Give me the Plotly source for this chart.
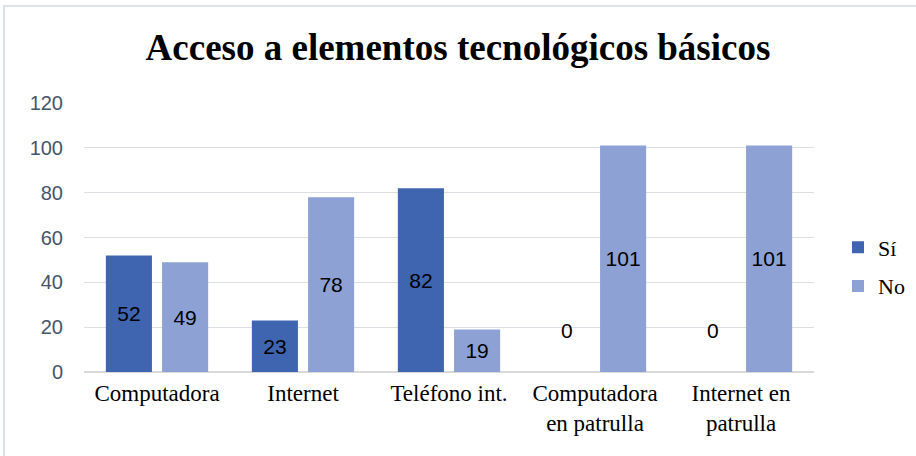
import plotly.graph_objects as go

categories = ["Computadora", "Internet", "Teléfono int.", "Computadora<br>en patrulla", "Internet en<br>patrulla"]
si_values = [52, 23, 82, 0, 0]
no_values = [49, 78, 19, 101, 101]
y_ticks = [0, 20, 40, 60, 80, 100, 120]

L, R, T, B = 84, 102, 103, 84
W, H = 916, 456
pw, ph = W - L - R, H - T - B

def pos(vals):
    return ["outside" if v == 0 else "inside" for v in vals]

def labels(vals):
    return [f"{v}<br> " if v == 0 else f"{v}" for v in vals]

label_font = dict(family="Liberation Sans, Arial", size=21, color="#000000")

fig = go.Figure()
fig.add_trace(go.Bar(
    name="Sí", x=categories, y=si_values, text=labels(si_values),
    textposition=pos(si_values), insidetextanchor="middle",
    marker=dict(color="#3f64b0", line=dict(width=0)),
    textfont=label_font, cliponaxis=False, legendgroup="a",
))
fig.add_trace(go.Bar(
    name="No", x=categories, y=no_values, text=labels(no_values),
    textposition=pos(no_values), insidetextanchor="middle",
    marker=dict(color="#8da1d4", line=dict(width=0)),
    textfont=label_font, cliponaxis=False, legendgroup="b",
))

fig.update_layout(
    width=W, height=H,
    margin=dict(l=L, r=R, t=T, b=B, pad=0, autoexpand=False),
    paper_bgcolor="#ffffff", plot_bgcolor="#ffffff",
    barmode="group", bargap=0.23, bargroupgap=0.18,
    title=dict(text="<b>Acceso a elementos tecnológicos básicos</b>",
               font=dict(family="Liberation Serif, Times New Roman", size=37, color="#000000"),
               x=0.5, xanchor="center", y=1 - 47 / H, yanchor="middle"),
    legend=dict(xref="container", yref="container", x=838 / W, y=1 - 267 / H,
                xanchor="left", yanchor="middle",
                font=dict(family="Liberation Serif, Times New Roman", size=22, color="#000000"),
                tracegroupgap=7, traceorder="grouped", itemwidth=30),
    uniformtext=dict(mode=False),
    showlegend=True,
)
fig.update_xaxes(
    tickfont=dict(family="Liberation Serif, Times New Roman", size=23, color="#000000"),
    showgrid=False, showline=True, linecolor="#d9d9d9", linewidth=1, ticks="",
    automargin=False,
)
fig.update_yaxes(
    range=[0, 120], tickvals=y_ticks, showgrid=True, gridcolor="#dcdfe4", gridwidth=1,
    zeroline=True, zerolinecolor="#d9d9d9",
    tickfont=dict(family="Liberation Sans, Arial", size=20, color="#44546a"),
    ticks="", ticklen=0, ticklabelstandoff=20, automargin=False,
)
# outer chart border
fig.add_shape(type="rect", xref="paper", yref="paper",
              x0=(4 - L) / pw, x1=(W + 5 - L) / pw, y0=(-10 - B) / ph, y1=(H - 6 - B) / ph,
              line=dict(color="#dde2e8", width=2), fillcolor="rgba(0,0,0,0)", layer="below")
fig.write_html("out.html", config={"displayModeBar": False},
               post_script="document.body.style.margin='0';document.body.style.overflow='hidden';")
